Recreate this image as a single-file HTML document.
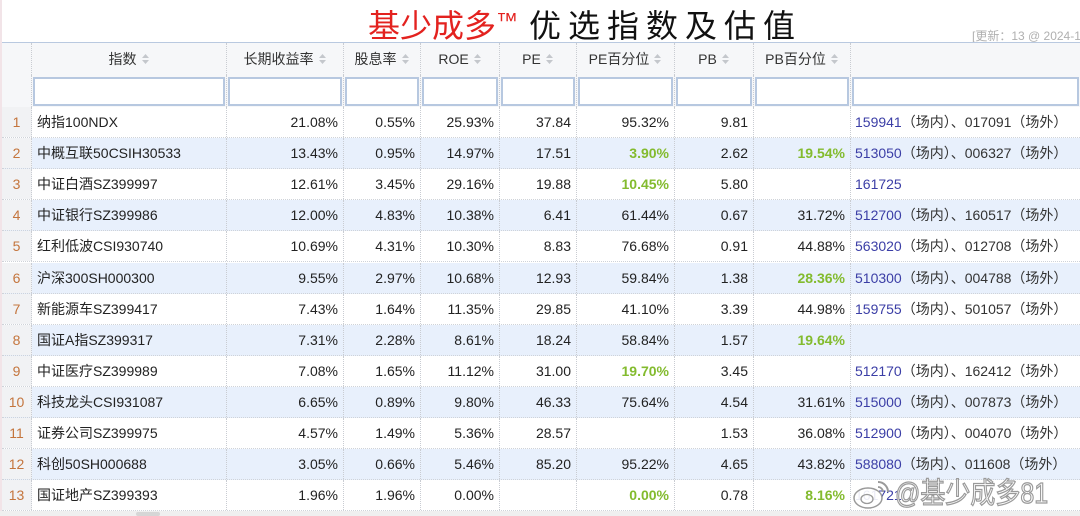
<!DOCTYPE html>
<html><head><meta charset="utf-8">
<style>
*{margin:0;padding:0;box-sizing:border-box}
html,body{width:1080px;height:516px;overflow:hidden;background:#fff}
body{position:relative;font-family:"Liberation Sans","Noto Sans CJK SC",sans-serif;color:#222;font-size:14px}
.title{position:absolute;top:-1px;left:368px;font-size:32px;line-height:44px;white-space:nowrap;font-family:"Liberation Sans","Noto Sans CJK SC",sans-serif}
.title .r{color:#e3221f}
.title .tm{font-size:22px;vertical-align:9px}
.title .k{color:#111;letter-spacing:7px;margin-left:11px}
.upd{position:absolute;left:972px;top:27px;font-size:12px;color:#b0b0b0;white-space:nowrap}
.leftstrip{position:absolute;left:0;top:0;width:2px;height:516px;background:#f2e4e8}
.hdr{position:absolute;left:2px;top:42px;width:1078px;height:33px;background:#f6f7f9;border-top:1px solid #b9c9e0}
.flt{position:absolute;left:2px;top:75px;width:1078px;height:32px;background:#f6f7f9}
.cell{position:absolute;top:0;height:100%;border-right:1px dotted #c9ccd2}
.hdr .cell{text-align:center;line-height:32px;color:#333;font-size:14px}
.flt .cell .inp{position:absolute;left:1px;right:1px;top:2px;bottom:1px;background:#fff;border:2px solid #b7c8e0}
.ic{display:inline-block;width:9px;height:12px;margin-left:4px;vertical-align:-1px}
.row{position:absolute;left:2px;width:1078px;height:31.1px;border-bottom:1px dotted #cfd3d9}
.row.e{background:#e8f0fc}
.row .cell{line-height:30px;white-space:nowrap}
.n{background:#f1f2f4;color:#c4753d;text-align:center}
.nm{padding-left:5px}
.v{text-align:right;padding-right:5px}
.g{color:#83bb2e;font-weight:bold}
.f{padding-left:4px;color:#333;overflow:hidden}
.b{color:#3b3ea6}
.c0{left:0;width:30px}
.c1{left:30px;width:195px}
.c2{left:225px;width:117px}
.c3{left:342px;width:77px}
.c4{left:419px;width:79px}
.c5{left:498px;width:77px}
.c6{left:575px;width:98px}
.c7{left:673px;width:79px}
.c8{left:752px;width:97px}
.c9{left:849px;width:229px;border-right:none}
.bottom{position:absolute;left:0;top:511px;width:1080px;height:5px;background:#efefef}
.thumb{position:absolute;left:136px;top:512px;width:24px;height:4px;background:#d6d6d6;border-radius:2px}
.wm{position:absolute;left:895px;top:476px;font-size:25px;line-height:36px;color:rgba(255,255,255,0.92);-webkit-text-stroke:1.1px #9a9a9a;white-space:nowrap;transform:scaleY(1.15);transform-origin:left center;font-family:"Liberation Sans","Noto Sans CJK SC",sans-serif}
.wlogo{position:absolute;left:852px;top:478px}
</style></head><body>
<div class="leftstrip"></div>
<div class="title"><span class="r">基少成多<span class="tm">™</span></span><span class="k">优选指数及估值</span></div>
<div class="upd">[更新：13 @ 2024-1</div>

<div class="hdr">
<div class="cell c0"></div>
<div class="cell c1">指数<svg class="ic" viewBox="0 0 9 12"><path d="M4.5 1L8 5H1z M4.5 11L1 7h7z" fill="#c4c7cc"/></svg></div>
<div class="cell c2">长期收益率<svg class="ic" viewBox="0 0 9 12"><path d="M4.5 1L8 5H1z M4.5 11L1 7h7z" fill="#c4c7cc"/></svg></div>
<div class="cell c3">股息率<svg class="ic" viewBox="0 0 9 12"><path d="M4.5 1L8 5H1z M4.5 11L1 7h7z" fill="#c4c7cc"/></svg></div>
<div class="cell c4">ROE<svg class="ic" viewBox="0 0 9 12"><path d="M4.5 1L8 5H1z M4.5 11L1 7h7z" fill="#c4c7cc"/></svg></div>
<div class="cell c5">PE<svg class="ic" viewBox="0 0 9 12"><path d="M4.5 1L8 5H1z M4.5 11L1 7h7z" fill="#c4c7cc"/></svg></div>
<div class="cell c6">PE百分位<svg class="ic" viewBox="0 0 9 12"><path d="M4.5 1L8 5H1z M4.5 11L1 7h7z" fill="#c4c7cc"/></svg></div>
<div class="cell c7">PB<svg class="ic" viewBox="0 0 9 12"><path d="M4.5 1L8 5H1z M4.5 11L1 7h7z" fill="#c4c7cc"/></svg></div>
<div class="cell c8">PB百分位<svg class="ic" viewBox="0 0 9 12"><path d="M4.5 1L8 5H1z M4.5 11L1 7h7z" fill="#c4c7cc"/></svg></div>
<div class="cell c9"></div>
</div>

<div class="flt">
<div class="cell c0"></div>
<div class="cell c1"><div class="inp"></div></div>
<div class="cell c2"><div class="inp"></div></div>
<div class="cell c3"><div class="inp"></div></div>
<div class="cell c4"><div class="inp"></div></div>
<div class="cell c5"><div class="inp"></div></div>
<div class="cell c6"><div class="inp"></div></div>
<div class="cell c7"><div class="inp"></div></div>
<div class="cell c8"><div class="inp"></div></div>
<div class="cell c9"><div class="inp"></div></div>
</div>

<div class="row" style="top:107px">
<div class="cell c0 n">1</div><div class="cell c1 nm">纳指100NDX</div><div class="cell c2 v">21.08%</div><div class="cell c3 v">0.55%</div><div class="cell c4 v">25.93%</div><div class="cell c5 v">37.84</div><div class="cell c6 v">95.32%</div><div class="cell c7 v">9.81</div><div class="cell c8 v"></div><div class="cell c9 f"><span class="b">159941</span>（场内）、017091（场外）</div>
</div>
<div class="row e" style="top:138.1px">
<div class="cell c0 n">2</div><div class="cell c1 nm">中概互联50CSIH30533</div><div class="cell c2 v">13.43%</div><div class="cell c3 v">0.95%</div><div class="cell c4 v">14.97%</div><div class="cell c5 v">17.51</div><div class="cell c6 v g">3.90%</div><div class="cell c7 v">2.62</div><div class="cell c8 v g">19.54%</div><div class="cell c9 f"><span class="b">513050</span>（场内）、006327（场外）</div>
</div>
<div class="row" style="top:169.2px">
<div class="cell c0 n">3</div><div class="cell c1 nm">中证白酒SZ399997</div><div class="cell c2 v">12.61%</div><div class="cell c3 v">3.45%</div><div class="cell c4 v">29.16%</div><div class="cell c5 v">19.88</div><div class="cell c6 v g">10.45%</div><div class="cell c7 v">5.80</div><div class="cell c8 v"></div><div class="cell c9 f"><span class="b">161725</span></div>
</div>
<div class="row e" style="top:200.3px">
<div class="cell c0 n">4</div><div class="cell c1 nm">中证银行SZ399986</div><div class="cell c2 v">12.00%</div><div class="cell c3 v">4.83%</div><div class="cell c4 v">10.38%</div><div class="cell c5 v">6.41</div><div class="cell c6 v">61.44%</div><div class="cell c7 v">0.67</div><div class="cell c8 v">31.72%</div><div class="cell c9 f"><span class="b">512700</span>（场内）、160517（场外）</div>
</div>
<div class="row" style="top:231.4px">
<div class="cell c0 n">5</div><div class="cell c1 nm">红利低波CSI930740</div><div class="cell c2 v">10.69%</div><div class="cell c3 v">4.31%</div><div class="cell c4 v">10.30%</div><div class="cell c5 v">8.83</div><div class="cell c6 v">76.68%</div><div class="cell c7 v">0.91</div><div class="cell c8 v">44.88%</div><div class="cell c9 f"><span class="b">563020</span>（场内）、012708（场外）</div>
</div>
<div class="row e" style="top:262.5px">
<div class="cell c0 n">6</div><div class="cell c1 nm">沪深300SH000300</div><div class="cell c2 v">9.55%</div><div class="cell c3 v">2.97%</div><div class="cell c4 v">10.68%</div><div class="cell c5 v">12.93</div><div class="cell c6 v">59.84%</div><div class="cell c7 v">1.38</div><div class="cell c8 v g">28.36%</div><div class="cell c9 f"><span class="b">510300</span>（场内）、004788（场外）</div>
</div>
<div class="row" style="top:293.6px">
<div class="cell c0 n">7</div><div class="cell c1 nm">新能源车SZ399417</div><div class="cell c2 v">7.43%</div><div class="cell c3 v">1.64%</div><div class="cell c4 v">11.35%</div><div class="cell c5 v">29.85</div><div class="cell c6 v">41.10%</div><div class="cell c7 v">3.39</div><div class="cell c8 v">44.98%</div><div class="cell c9 f"><span class="b">159755</span>（场内）、501057（场外）</div>
</div>
<div class="row e" style="top:324.7px">
<div class="cell c0 n">8</div><div class="cell c1 nm">国证A指SZ399317</div><div class="cell c2 v">7.31%</div><div class="cell c3 v">2.28%</div><div class="cell c4 v">8.61%</div><div class="cell c5 v">18.24</div><div class="cell c6 v">58.84%</div><div class="cell c7 v">1.57</div><div class="cell c8 v g">19.64%</div><div class="cell c9 f"></div>
</div>
<div class="row" style="top:355.8px">
<div class="cell c0 n">9</div><div class="cell c1 nm">中证医疗SZ399989</div><div class="cell c2 v">7.08%</div><div class="cell c3 v">1.65%</div><div class="cell c4 v">11.12%</div><div class="cell c5 v">31.00</div><div class="cell c6 v g">19.70%</div><div class="cell c7 v">3.45</div><div class="cell c8 v"></div><div class="cell c9 f"><span class="b">512170</span>（场内）、162412（场外）</div>
</div>
<div class="row e" style="top:386.9px">
<div class="cell c0 n">10</div><div class="cell c1 nm">科技龙头CSI931087</div><div class="cell c2 v">6.65%</div><div class="cell c3 v">0.89%</div><div class="cell c4 v">9.80%</div><div class="cell c5 v">46.33</div><div class="cell c6 v">75.64%</div><div class="cell c7 v">4.54</div><div class="cell c8 v">31.61%</div><div class="cell c9 f"><span class="b">515000</span>（场内）、007873（场外）</div>
</div>
<div class="row" style="top:418px">
<div class="cell c0 n">11</div><div class="cell c1 nm">证券公司SZ399975</div><div class="cell c2 v">4.57%</div><div class="cell c3 v">1.49%</div><div class="cell c4 v">5.36%</div><div class="cell c5 v">28.57</div><div class="cell c6 v"></div><div class="cell c7 v">1.53</div><div class="cell c8 v">36.08%</div><div class="cell c9 f"><span class="b">512900</span>（场内）、004070（场外）</div>
</div>
<div class="row e" style="top:449.1px">
<div class="cell c0 n">12</div><div class="cell c1 nm">科创50SH000688</div><div class="cell c2 v">3.05%</div><div class="cell c3 v">0.66%</div><div class="cell c4 v">5.46%</div><div class="cell c5 v">85.20</div><div class="cell c6 v">95.22%</div><div class="cell c7 v">4.65</div><div class="cell c8 v">43.82%</div><div class="cell c9 f"><span class="b">588080</span>（场内）、011608（场外）</div>
</div>
<div class="row" style="top:480.2px">
<div class="cell c0 n">13</div><div class="cell c1 nm">国证地产SZ399393</div><div class="cell c2 v">1.96%</div><div class="cell c3 v">1.96%</div><div class="cell c4 v">0.00%</div><div class="cell c5 v"></div><div class="cell c6 v g">0.00%</div><div class="cell c7 v">0.78</div><div class="cell c8 v g">8.16%</div><div class="cell c9 f"><span class="b">161721</span></div>
</div>

<div class="bottom"></div>
<div class="thumb"></div>

<svg class="wlogo" width="40" height="32" viewBox="0 0 40 32">
<ellipse cx="16" cy="20" rx="14" ry="10" fill="rgba(255,255,255,0.9)" stroke="#9a9a9a" stroke-width="1.5"/>
<ellipse cx="15" cy="21" rx="6" ry="4.5" fill="none" stroke="#9a9a9a" stroke-width="1.3"/>
<path d="M26 4 A10 10 0 0 1 36 14" fill="none" stroke="#9a9a9a" stroke-width="2"/>
<path d="M26 9 A5 5 0 0 1 31 14" fill="none" stroke="#9a9a9a" stroke-width="1.8"/>
</svg>
<div class="wm">@基少成多81</div>
</body></html>
